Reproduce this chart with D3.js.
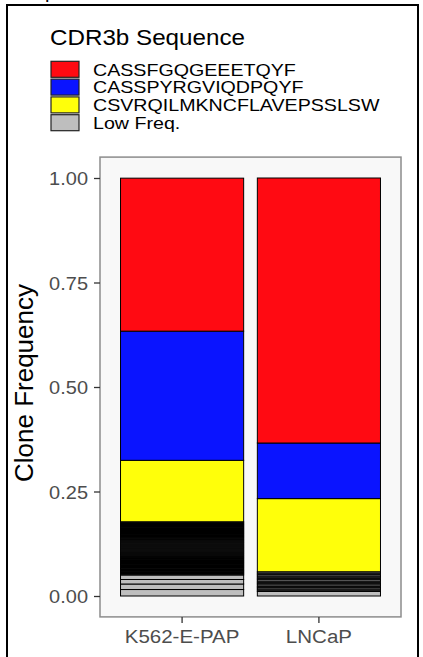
<!DOCTYPE html>
<html>
<head>
<meta charset="utf-8">
<script src="https://cdn.jsdelivr.net/npm/d3@7"></script>
<style>
  html, body { margin: 0; padding: 0; background: #fff; }
  svg { display: block; }
  text { font-family: "Liberation Sans", Arial, Helvetica, sans-serif; }
</style>
</head>
<body>
<svg id="chart" width="423" height="657"></svg>
<script>
// ---- data ----
const categories = ["K562-E-PAP", "LNCaP"];
const seqLabels = ["CASSFGQGEEETQYF", "CASSPYRGVIQDPQYF", "CSVRQILMKNCFLAVEPSSLSW", "Low Freq."];
const seqColors = ["#FF0A12", "#0A14FF", "#FFFF0A", "#BEBEBE"];
const redValues = [0.366, 0.634];
const blueValues = [0.309, 0.133];
const yellowValues = [0.147, 0.175];
// low-frequency clones, listed from the bottom of the bar upwards
const k562LowFreq = [0.0155, 0.0132, 0.0108, 0.0108,
  0.0026, 0.0024, 0.0023, 0.0025, 0.0022, 0.0024, 0.0026, 0.0023, 0.0024,
  0.0023, 0.0025, 0.0024, 0.0022, 0.0024, 0.0023, 0.0025, 0.0024, 0.0022,
  0.0024, 0.0022, 0.0025, 0.0023, 0.0024, 0.0022, 0.0023, 0.0025, 0.0024,
  0.0022, 0.0024, 0.0023, 0.0024, 0.0025, 0.0022, 0.0024, 0.0023, 0.0022,
  0.0025, 0.0023, 0.0022, 0.0024, 0.0023, 0.0025, 0.0022, 0.0024, 0.0023,
  0.0024, 0.0023, 0.0022, 0.0025, 0.0024, 0.0023, 0.0022, 0.0024, 0.0025];
const lncapLowFreq = [0.0108,
  0.0031, 0.0030, 0.0032, 0.0029, 0.0036, 0.0030, 0.0031, 0.0029,
  0.0036, 0.0030, 0.0031, 0.0029, 0.0036, 0.0030, 0.0032];
const yTicks = [0, 0.25, 0.5, 0.75, 1];
const yTitle = "Clone Frequency";
const legendTitle = "CDR3b Sequence";

// ---- layout ----
const svg = d3.select("#chart");
const SX = 1.1; // horizontal stretch of the reference image text

const x = d3.scaleBand().domain(categories).range([100, 401]).paddingInner(0.1).paddingOuter(0.15);
const y = d3.scaleLinear().domain([0, 1]).range([596, 178]);

// outer frame
svg.append("rect").attr("x", 7).attr("y", 5).attr("width", 411).attr("height", 700)
  .attr("fill", "none").attr("stroke", "#000").attr("stroke-width", 2);
// cropped text fragment at top
svg.append("text").attr("x", 45).attr("y", -2).attr("font-family", "Liberation Serif")
  .attr("font-size", 20).attr("fill", "#000").text("p");

// panel
const pY0 = y(1.05), pY1 = y(-0.05);
svg.append("rect").attr("x", 100).attr("y", pY0).attr("width", 301).attr("height", pY1 - pY0)
  .attr("fill", "#F8F8F8").attr("stroke", "none");

// bars
const lowFreqByCat = [k562LowFreq, lncapLowFreq];
const segments = [];
categories.forEach((c, i) => {
  let acc = 0;
  const parts = lowFreqByCat[i].map(v => ({ v, col: seqColors[3] }))
    .concat([{ v: yellowValues[i], col: seqColors[2] },
             { v: blueValues[i], col: seqColors[1] },
             { v: redValues[i], col: seqColors[0] }]);
  parts.forEach(p => {
    segments.push({ cat: c, y0: acc, y1: acc + p.v, col: p.col });
    acc += p.v;
  });
});
svg.append("g").selectAll("rect").data(segments).join("rect")
  .attr("x", d => x(d.cat))
  .attr("width", x.bandwidth())
  .attr("y", d => y(d.y1))
  .attr("height", d => y(d.y0) - y(d.y1))
  .attr("fill", d => d.col)
  .attr("stroke", "#000")
  .attr("stroke-width", 1);

// panel border
svg.append("rect").attr("x", 100).attr("y", pY0).attr("width", 301).attr("height", pY1 - pY0)
  .attr("fill", "none").attr("stroke", "#8C8C8C").attr("stroke-width", 1.5);

// y axis
const yAxis = svg.append("g").attr("transform", "translate(100,0)")
  .call(d3.axisLeft(y).tickValues(yTicks).tickFormat(d3.format(".2f")).tickSize(6).tickPadding(6));
yAxis.select(".domain").remove();
yAxis.selectAll(".tick line").attr("stroke", "#333").attr("stroke-width", 1.3);
yAxis.selectAll(".tick text").attr("font-size", 18.5).attr("fill", "#4D4D4D")
  .attr("font-family", "Liberation Sans, Arial, sans-serif")
  .attr("x", null).attr("dy", null)
  .attr("transform", `translate(-12,6.5) scale(1.08,1)`);

// x axis
const xAxis = svg.append("g").attr("transform", `translate(0,${pY1})`)
  .call(d3.axisBottom(x).tickSize(6).tickPadding(4));
xAxis.select(".domain").remove();
xAxis.selectAll(".tick line").attr("stroke", "#333").attr("stroke-width", 1.3);
xAxis.selectAll(".tick text").attr("font-size", 19).attr("fill", "#4D4D4D")
  .attr("font-family", "Liberation Sans, Arial, sans-serif")
  .attr("y", null).attr("dy", null)
  .attr("transform", `translate(0,26) scale(1.08,1)`);

// y title
svg.append("text").attr("transform", "translate(33,383) rotate(-90)")
  .attr("text-anchor", "middle").attr("font-size", 26).attr("fill", "#000").text(yTitle);

// legend
svg.append("text").attr("transform", `translate(50,45) scale(${SX},1)`)
  .attr("font-size", 22).attr("fill", "#000").text(legendTitle);
const leg = svg.append("g");
seqLabels.forEach((lab, i) => {
  const cy = 69.3 + i * 17.8;
  leg.append("rect").attr("x", 51).attr("y", cy - 8).attr("width", 28).attr("height", 16)
    .attr("fill", seqColors[i]).attr("stroke", "#222").attr("stroke-width", 1.2);
  leg.append("text").attr("transform", `translate(93,${cy + 6.3}) scale(1.19,1)`)
    .attr("font-size", 16.5).attr("fill", "#000").text(lab);
});
</script>
</body>
</html>
